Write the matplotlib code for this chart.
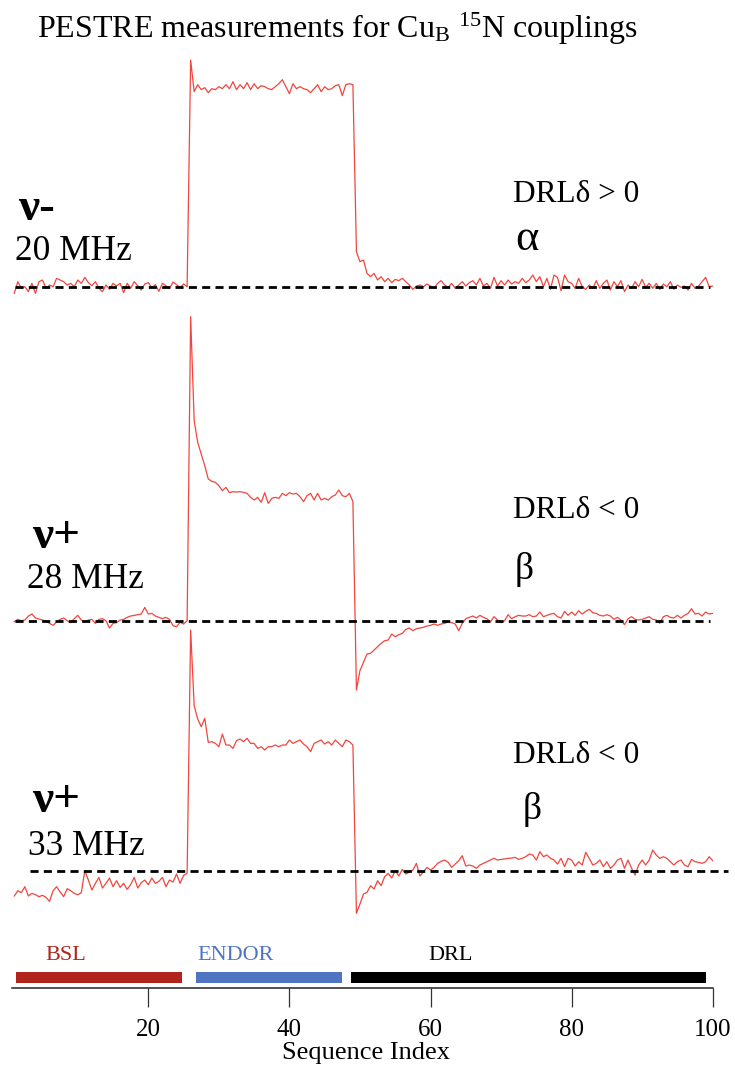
import numpy as np
import matplotlib
matplotlib.use("Agg")
import matplotlib.pyplot as plt

plt.rcParams["font.family"] = ["Liberation Serif", "DejaVu Serif"]
plt.rcParams["mathtext.fontset"] = "custom"
plt.rcParams["mathtext.rm"] = "Liberation Serif"
plt.rcParams["mathtext.it"] = "Liberation Serif:italic"

# PESTRE traces (a.u., baseline = 0), sampled every half step of the sequence index
seq_index = np.arange(1.0, 100.25, 0.5)

nu_minus_20 = [
    -20, 15, -5, 0, -15, 10, -20, 15, 20, -5, 5, 0, 25, 20, 15, 5, 10, 0, 20, 10,
    28, 12, 3, 15, -5, -15, 5, -8, 10, 2, 10, -18, 10, -5, 15, 3, -10, 8, 12, -3,
    6, -14, 10, 3, -6, 14, 6, -3, 8, 0,
    680, 585, 606, 591, 597, 582, 594, 591, 600, 594, 606, 594, 615, 591, 606, 594,
    612, 591, 609, 594, 603, 600, 594, 591, 600, 609, 621, 600, 579, 609, 594, 600,
    594, 591, 582, 594, 606, 585, 600, 591, 594, 603, 606, 573, 606, 609, 606,
    105, 75, 80, 40, 30, 40, 20, 30, 15, 25, 12, 22, 18, 25, 15, 5, -8, 2, 5, 0,
    8, 2, -5, 10, 18, 5, -2, 10, -5, 5, 15, 2, 12, 18, 5, 25, 2, 10, -5, 28,
    2, 18, 5, 20, 8, 15, 10, 25, 12, 20, 35, 15, 30, 0, 25, -8, 35, 28, -12, 35,
    15, 10, -5, 25, 0, -8, 5, -5, 18, -5, 10, 20, -10, 15, 0, 18, -15, 5, -5, 15,
    0, 22, -2, 10, -5, 10, -8, 8, 0, 15, -8, 5, -2, 2, -10, 10, -5, 2, 15, 28,
    0, 2,
]

nu_plus_28 = [
    -3, 4, 0, 2, 14, 20, 8, 5, 2, -2, -8, -14, -4, 4, 8, 0, -6, 6, 16, 2,
    -4, 2, 4, -8, 4, 6, 0, -22, -8, -6, 2, 4, 10, 14, 16, 18, 20, 40, 20, 22,
    14, 10, 6, 10, 4, -15, -18, -5, -10, 0,
    912, 600, 535, 500, 465, 425, 418, 415, 405, 390, 400, 384, 387, 386, 387, 385,
    382, 370, 362, 370, 355, 384, 352, 367, 370, 367, 382, 375, 384, 380, 382, 372,
    357, 375, 382, 362, 382, 362, 367, 362, 372, 377, 392, 375, 372, 382, 357,
    -208, -150, -125, -100, -98, -88, -78, -68, -60, -58, -40, -48, -42, -38, -26,
    -22, -30, -24, -22, -20, -16, -14, -10, -14, -10, -8, -4, -6, -10, -30,
    -8, 6, 10, 14, 8, 16, 10, 6, -4, 12, 2, -6, 0, 18, 6, 12, 16, 14, 14, 18,
    12, 14, 26, 12, 16, 20, 22, 12, 8, 28, 16, 26, 16, 30, 20, 28, 34, 24, 22, 16,
    14, 18, 14, 4, 10, 2, -12, 6, 12, 4, 2, 4, 8, 12, 4, 2, -8, 12, 16, 10,
    8, 16, 8, 16, 22, 36, 20, 22, 14, 26, 20, 22,
]

nu_plus_33 = [
    -76, -60, -66, -48, -76, -68, -72, -78, -74, -80, -92, -60, -48, -64, -78, -54,
    -60, -68, -72, -66, 0, -28, -58, -38, -20, -52, -38, -22, -48, -30, -50, -38,
    -56, -42, -20, -52, -36, -28, -42, -22, -38, -32, -20, -48, -28, -34, -10, -38,
    -14, -8,
    722, 495, 455, 432, 457, 385, 387, 382, 372, 410, 377, 377, 367, 390, 395, 387,
    397, 382, 382, 367, 372, 362, 372, 372, 377, 372, 377, 377, 392, 382, 387, 392,
    380, 372, 357, 382, 387, 392, 380, 387, 377, 392, 382, 372, 392, 387, 377,
    -128, -100, -70, -65, -45, -55, -30, -45, -18, -8, -22, 0, -16, 4, -10, -5,
    2, 22, -16, -3, 10, 2, 10, 22, 28, 32, 25, 10, 20, 30, 45, 14, 17, 14, 7, 17,
    22, 27, 32, 37, 32, 34, 35, 37, 38, 40, 34, 37, 42, 50, 47, 32, 57, 42, 47, 37,
    32, 20, 37, 12, 37, 32, 14, 27, 17, 55, 37, 17, 22, 32, 12, 27, 7, 17, 32, 37,
    7, 32, 7, -13, 17, 32, 17, 32, 62, 47, 37, 42, 37, 27, 17, 27, 32, 17, 12, 34,
    27, 25, 22, 27, 42, 30,
]

traces = [nu_minus_20, nu_plus_28, nu_plus_33]
offsets = [1752, 750, 0]
baseline_spans = [(1.1, 99.6), (1.1, 99.6), (3.2, 102.1)]

# pulse sequence blocks: name, start, end, colour
phases = ["BSL", "ENDOR", "DRL"]
phase_start = [1.2, 26.8, 48.8]
phase_end = [24.8, 47.4, 99.1]
phase_colors = ["#b0241b", "#4f74c2", "#000000"]
phase_label_x = [8.3, 32.4, 62.9]

W, H = 735, 1066
fig = plt.figure(figsize=(W / 100, H / 100), dpi=100)
ax = fig.add_axes([12.3 / W, (H - 987.7) / H, 700.4 / W, (987.7 - 40) / H])
ax.set_xlim(0.72, 100)
ax.set_ylim(-351, 2492)

red = "#f2453d"
for vals, off, (x0, x1) in zip(traces, offsets, baseline_spans):
    ax.plot(seq_index, np.array(vals) + off, color=red, lw=0.9, zorder=3)
    ax.plot([x0, x1], [off, off], color="black", lw=2.0,
            ls=(0, (2.9, 1.9)), zorder=4, clip_on=False)

for name, s, e, c, lx in zip(phases, phase_start, phase_end, phase_colors, phase_label_x):
    ax.barh(-320.5, e - s, left=s, height=33, color=c, zorder=2)
    ax.text(lx, -267, name, color=c, fontsize=16, ha="center", va="baseline")

for side in ["left", "right", "top"]:
    ax.spines[side].set_visible(False)
ax.spines["bottom"].set_linewidth(1.1)
ax.spines["bottom"].set_color("#222222")
ax.set_yticks([])
ax.set_xticks([20, 40, 60, 80, 100])
ax.tick_params(axis="x", direction="out", length=13.5, width=0.9, color="#333333",
               labelsize=18, pad=9)


def label(x, y, s, **kw):
    fig.text(x / W, 1 - y / H, s, va="baseline", **kw)


label(337, 38, r"PESTRE measurements for Cu$_\mathrm{B}$ $^{15}$N couplings",
      fontsize=23, ha="center")
label(366, 1059, "Sequence Index", fontsize=19, ha="center")

label(18, 220, "ν-", fontsize=34, fontweight="bold")
label(15, 260, "20 MHz", fontsize=25.5)
label(32, 548, "ν+", fontsize=34, fontweight="bold")
label(27, 588, "28 MHz", fontsize=25.5)
label(32, 812, "ν+", fontsize=34, fontweight="bold")
label(28, 855, "33 MHz", fontsize=25.5)

label(513, 202, "DRLδ > 0", fontsize=22.5)
label(515, 250, "α", fontsize=32)
label(513, 518, "DRLδ < 0", fontsize=22.5)
label(515, 579, "β", fontsize=27)
label(513, 763, "DRLδ < 0", fontsize=22.5)
label(523, 819, "β", fontsize=27)

fig.savefig("out.png", dpi=100)
